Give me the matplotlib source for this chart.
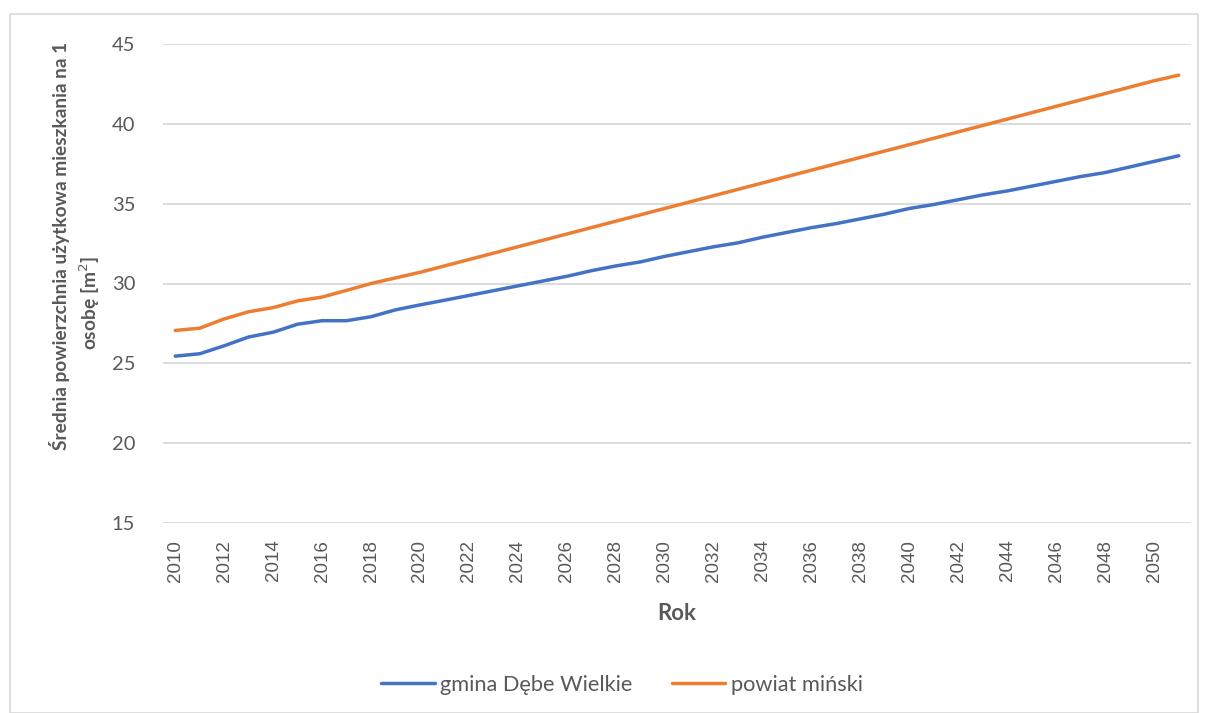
import numpy as np
import matplotlib.pyplot as plt
from matplotlib.patches import Rectangle

# data
years = list(range(2010, 2052))
gmina = [25.45, 25.6, 26.1, 26.65, 26.95, 27.45, 27.67, 27.67, 27.92, 28.35,
         28.66, 28.95, 29.25, 29.55, 29.85, 30.15, 30.45, 30.8, 31.1, 31.35,
         31.7, 32.0, 32.3, 32.55, 32.9, 33.2, 33.5, 33.75, 34.05, 34.35,
         34.7, 34.95, 35.25, 35.55, 35.8, 36.1, 36.4, 36.7, 36.95, 37.3,
         37.65, 38.0]
powiat = [27.06, 27.2, 27.78, 28.23, 28.49, 28.91, 29.15, 29.57, 30.0, 30.35,
          30.7, 31.1, 31.5, 31.9, 32.3, 32.7, 33.1, 33.5, 33.9, 34.3,
          34.7, 35.1, 35.5, 35.9, 36.3, 36.7, 37.1, 37.5, 37.9, 38.3,
          38.7, 39.1, 39.5, 39.9, 40.3, 40.7, 41.1, 41.5, 41.9, 42.3,
          42.7, 43.05]
labels = ["gmina Dębe Wielkie", "powiat miński"]
colors = ["#4472C4", "#ED7D31"]
yticks = [15, 20, 25, 30, 35, 40, 45]

W, H = 1210, 713
fig = plt.figure(figsize=(W / 100, H / 100), dpi=100)
ax = fig.add_axes([163 / W, 1 - 523 / H, (1191 - 163) / W, (523 - 44) / H])

for vals, lab, col in zip([gmina, powiat], labels, colors):
    ax.plot(years, vals, color=col, lw=2.5, label=lab, solid_capstyle="round")

ax.set_xlim(2009.5, 2051.5)
ax.set_ylim(15, 45)
ax.set_yticks(yticks)
ax.set_xticks(years[::2])
ax.set_xticklabels([str(y) for y in years[::2]], rotation=90,
                   family="Liberation Sans", fontsize=13.5, color="#595959")
ax.set_yticklabels([str(v) for v in yticks], family="Lato", fontsize=14.5,
                   color="#595959")
ax.tick_params(length=0)
ax.tick_params(axis="x", pad=12)
ax.tick_params(axis="y", pad=20)
ax.grid(axis="y", color="#D9D9D9", lw=1.3)
ax.set_axisbelow(True)
for s in ax.spines.values():
    s.set_visible(False)

fig.text(60 / W, 1 - 246 / H, "Średnia powierzchnia użytkowa mieszkania na 1",
         rotation=90, ha="center", va="center", family="Lato",
         weight="bold", fontsize=13.8, color="#595959")
fig.text(90 / W, 1 - 303 / H, "osobę [m$^2$]", rotation=90, ha="center",
         va="center", family="Lato", weight="bold", fontsize=13.8,
         color="#595959")
fig.text(677 / W, 1 - 613 / H, "Rok", ha="center", va="center", family="Lato",
         weight="bold", fontsize=16, color="#595959")

fig.legend(loc="center", bbox_to_anchor=(622 / W, 1 - 685 / H), ncol=2,
           frameon=False, prop={"family": "Lato", "size": 15.7},
           handlelength=2.45, handletextpad=0.25, columnspacing=1.8,
           labelcolor="#595959")

fig.patches.append(Rectangle((10 / W, 0), 1188 / W, 1 - 14 / H,
                             transform=fig.transFigure, fill=False,
                             edgecolor="#D9D9D9", lw=1.2))

fig.savefig("out.png", dpi=100)
